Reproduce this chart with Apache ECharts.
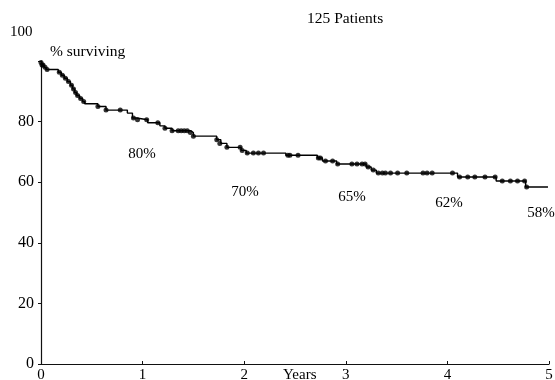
<!DOCTYPE html>
<html>
<head>
<meta charset="utf-8">
<script src="https://cdn.jsdelivr.net/npm/echarts@6/dist/echarts.min.js"></script>
<style>html,body{margin:0;padding:0;background:#fff}#c{width:555px;height:380px}</style>
</head>
<body>
<div id="c"></div>
<script>
// Kaplan-Meier step curve: event times (years) and survival after the event (%)
var stepTimes = [0, 0.01, 0.03, 0.05, 0.17, 0.20, 0.23, 0.26, 0.29, 0.31, 0.33, 0.35, 0.38, 0.41, 0.43,
  0.56, 0.64, 0.85, 0.90, 0.94, 1.05, 1.17, 1.22, 1.29, 1.47, 1.50, 1.73, 1.77, 1.83, 1.97, 2.02,
  2.41, 2.72, 2.77, 2.91, 3.20, 3.25, 3.30, 4.10, 4.48, 4.77, 4.99];
var stepValues = [99.5, 98.7, 97.9, 97.2, 96.3, 95.3, 94.3, 93.2, 92.0, 90.8, 89.6, 88.6, 87.6, 86.6, 85.9,
  85.0, 83.8, 82.8, 81.2, 80.6, 79.6, 78.6, 77.8, 77.0, 76.4, 75.2, 74.0, 72.8, 71.5, 70.5, 69.6,
  68.9, 68.0, 67.0, 66.0, 65.0, 64.0, 63.0, 61.7, 60.4, 58.4, 58.4];
// censored observations (years) and the survival level they sit on (%)
var censorTimes = [0.00, 0.01, 0.02, 0.04, 0.06, 0.18, 0.21, 0.24, 0.27, 0.30, 0.32, 0.34, 0.36, 0.39, 0.42,
  0.56, 0.64, 0.78, 0.91, 0.95, 1.04, 1.15, 1.22, 1.29, 1.35, 1.38, 1.41, 1.44, 1.47, 1.50,
  1.73, 1.76, 1.83, 1.96, 1.98, 2.03, 2.09, 2.14, 2.19, 2.43, 2.45, 2.53, 2.73, 2.75, 2.80, 2.87, 2.92,
  3.06, 3.11, 3.16, 3.19, 3.22, 3.27, 3.32, 3.36, 3.39, 3.44, 3.51, 3.60, 3.76, 3.80, 3.85, 4.05,
  4.12, 4.20, 4.27, 4.37, 4.47, 4.54, 4.62, 4.69, 4.76, 4.78];
var censorValues = [99.5, 98.7, 98.7, 97.9, 97.2, 96.3, 95.3, 94.3, 93.2, 92.0, 90.8, 89.6, 88.6, 87.6, 86.6,
  85.0, 83.8, 83.8, 81.2, 80.6, 80.6, 79.6, 77.8, 77.0, 77.0, 77.0, 77.0, 77.0, 76.4, 75.2,
  74.0, 72.8, 71.5, 71.5, 70.5, 69.6, 69.6, 69.6, 69.6, 68.9, 68.9, 68.9, 68.0, 68.0, 67.0, 67.0, 66.0,
  66.0, 66.0, 66.0, 66.0, 65.0, 64.0, 63.0, 63.0, 63.0, 63.0, 63.0, 63.0, 63.0, 63.0, 63.0, 63.0,
  61.7, 61.7, 61.7, 61.7, 61.7, 60.4, 60.4, 60.4, 60.4, 58.4];
// x-axis tick labels and y-axis tick labels
var xTicks = [0, 1, 2, 3, 4, 5];
var yTicks = [0, 20, 40, 60, 80, 100];
// annotation texts
var yearlyLabels = ['80%', '70%', '65%', '62%', '58%'];
var title = '125 Patients';
var yTitle = '% surviving';
var xTitle = 'Years';

var FONT = '"Liberation Serif", "DejaVu Serif", serif';
var stepData = stepTimes.map(function (t, i) { return [t, stepValues[i]]; });
var censorData = censorTimes.map(function (t, i) { return [t, censorValues[i]]; });

var chart = echarts.init(document.getElementById('c'), null, {renderer: 'canvas'});
var labelPos = [[142, 154], [245, 192], [352, 197], [449, 203], [541, 213]];
var graphics = [
  {type: 'text', left: 307, top: 11, style: {text: title, font: '15.5px ' + FONT, fill: '#000'}},
  {type: 'text', left: 50, top: 44, style: {text: yTitle, font: '15.5px ' + FONT, fill: '#000'}},
  {type: 'text', left: 10, top: 25, style: {text: String(yTicks[5]), font: '15px ' + FONT, fill: '#000'}},
  {type: 'text', x: 283, y: 368, style: {text: xTitle, font: '15px ' + FONT, fill: '#000'}}
];
yearlyLabels.forEach(function (s, i) {
  graphics.push({type: 'text', x: labelPos[i][0], y: labelPos[i][1],
    style: {text: s, font: '15px ' + FONT, fill: '#000', align: 'center', verticalAlign: 'middle'}});
});

chart.setOption({
  animation: false,
  backgroundColor: '#fff',
  grid: {left: 41, right: 6, top: 61, bottom: 16, containLabel: false, outerBoundsMode: 'none'},
  xAxis: {
    type: 'value', min: 0, max: 5, interval: 1,
    axisLine: {show: true, lineStyle: {color: '#111', width: 1.2}},
    axisTick: {show: true, inside: true, length: 3, lineStyle: {color: '#111'}},
    axisLabel: {color: '#000', fontFamily: FONT, fontSize: 15, margin: 4,
      formatter: function (v) { return xTicks.indexOf(v) >= 0 ? String(v) : ''; }},
    splitLine: {show: false}
  },
  yAxis: {
    type: 'value', min: 0, max: 100, interval: 20,
    axisLine: {show: true, lineStyle: {color: '#111', width: 1.2}},
    axisTick: {show: true, length: 3, lineStyle: {color: '#111'}},
    axisLabel: {color: '#000', fontFamily: FONT, fontSize: 16, margin: 7,
      formatter: function (v) { return v === 100 ? '' : String(v); }},
    splitLine: {show: false}
  },
  graphic: graphics,
  series: [
    {type: 'line', step: 'end', data: stepData, showSymbol: false, symbol: 'none',
      lineStyle: {color: '#000', width: 1.4}, z: 2},
    {type: 'scatter', data: censorData, symbol: 'circle', symbolSize: 5,
      itemStyle: {color: '#000'}, z: 3}
  ]
});
</script>
</body>
</html>
